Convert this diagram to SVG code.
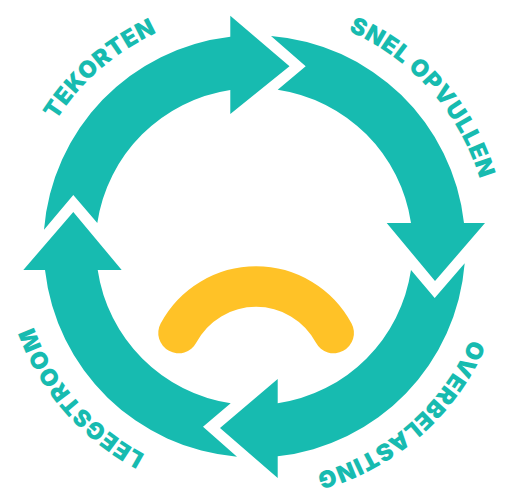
<svg xmlns="http://www.w3.org/2000/svg" width="511" height="488" viewBox="0 0 511 488">
<style>
.a{fill:#17bbb0}
.t{fill:#17bbb0;font-family:"Inter","Liberation Sans",sans-serif;font-weight:900;font-size:23.5px;letter-spacing:0.8px;text-anchor:middle}
</style>
<defs>
<path id="c" d="M254.5 481.5A235 235 0 0 1 254.5 11.5A235 235 0 0 1 254.5 481.5"/>
</defs>
<rect width="511" height="488" fill="#fff"/>
<g id="tekorten">
<path class="a" d="M44 229.7A211.2 211.2 0 0 1 230.3 36.7V15.7L289.5 66.3L230.3 114V90A158.4 158.4 0 0 0 97.3 223L73.3 195Z"/>
<text class="t" transform="rotate(-41 254.5 246.5)"><textPath href="#c" startOffset="50%">TEKORTEN</textPath></text>
</g>
<g id="snel-opvullen">
<path class="a" d="M271 36A211.2 211.2 0 0 1 464 223H485L435 281L386.7 223H411A158.4 158.4 0 0 0 277.7 89.7L305.7 66.3Z"/>
<text class="t" transform="rotate(48.5 254.5 246.5)"><textPath href="#c" startOffset="50%">SNEL OPVULLEN</textPath></text>
</g>
<g id="overbelasting">
<path class="a" d="M464.7 263.3A211.2 211.2 0 0 1 277.7 456.3V478L220 428L277.7 379V403.3A158.4 158.4 0 0 0 411 270L434.7 298Z"/>
<text class="t" transform="rotate(139 254.5 246.5)"><textPath href="#c" startOffset="50%">OVERBELASTING</textPath></text>
</g>
<g id="leegstroom">
<path class="a" d="M237 456.7A211.2 211.2 0 0 1 45 270H23.3L73.3 212L121.7 270H97.7A158.4 158.4 0 0 0 230.7 403.3L203 426.7Z"/>
<text class="t" transform="rotate(229 254.5 246.5)"><textPath href="#c" startOffset="50%">LEEGSTROOM</textPath></text>
</g>
<g id="smile">
<path d="M178.5 333A88 88 0 0 1 333.7 333" fill="none" stroke="#ffc227" stroke-width="40.5" stroke-linecap="round"/>
</g>
</svg>
